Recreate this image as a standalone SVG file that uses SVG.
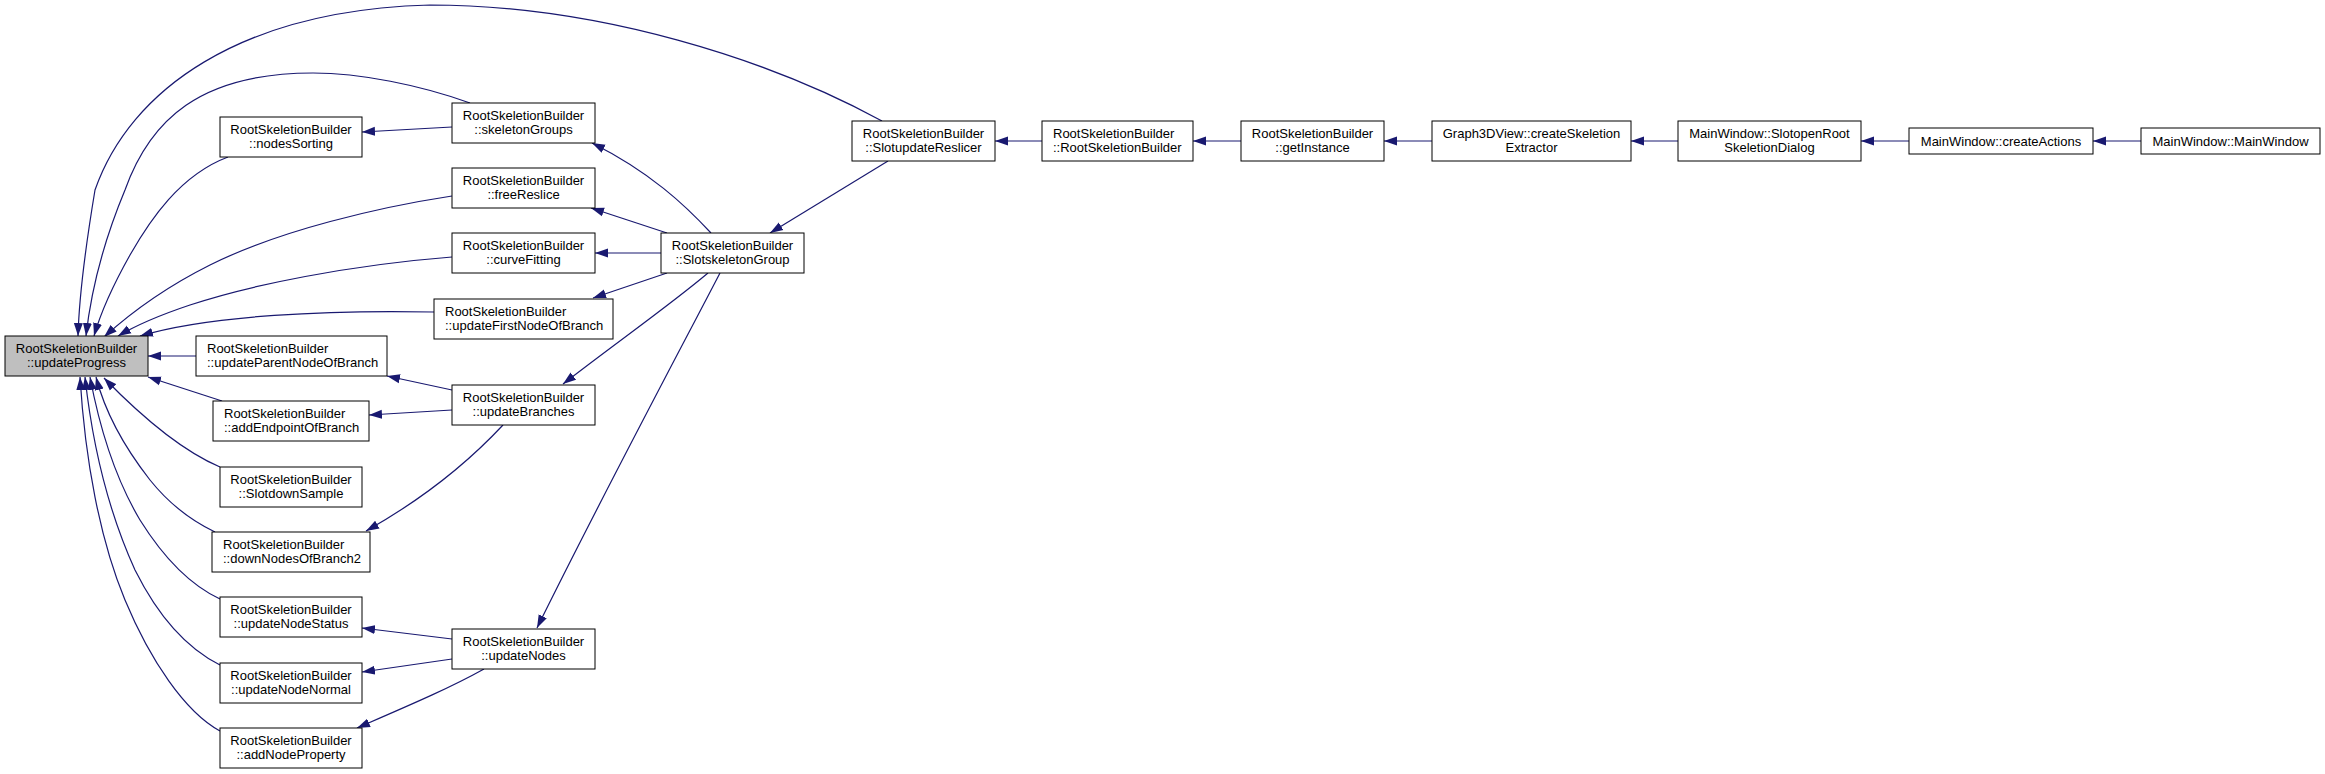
<svg xmlns="http://www.w3.org/2000/svg" width="2325" height="774" viewBox="0 0 2325 774">
<style>
.n rect{fill:#ffffff;stroke:#000000;stroke-width:1}
.n.hl rect{fill:#bfbfbf}
.n text{font-family:"Liberation Sans",Arial,sans-serif;font-size:13px;fill:#000000}
.c{text-anchor:middle}
#edges path{fill:none;stroke:#191970;stroke-width:1.2;marker-end:url(#ah)}
</style>
<defs>
<marker id="ah" markerWidth="13" markerHeight="10" refX="13" refY="5" orient="auto" markerUnits="userSpaceOnUse" viewBox="0 0 13 10">
<path d="M0,0.5 L13,5 L0,9.5 z" fill="#191970"/>
</marker>
</defs>
<rect width="2325" height="774" fill="#ffffff"/>
<g id="edges">
<path d="M882,121 C770,60 600,5 430,5 C240,10 130,90 95,190 C85,250 79,300 78,336"/>
<path d="M470,103 C420,85 360,73 313,73 C200,73 150,120 125,190 C100,250 90,300 86,336"/>
<path d="M228,157 C180,175 150,220 130,255 C112,287 100,315 94,336"/>
<path d="M452,196 C380,207 280,230 210,265 C160,290 125,318 104,337"/>
<path d="M452,257 C350,265 250,285 190,305 C160,315 135,326 118,336"/>
<path d="M434,312 C330,310 210,315 140,336"/>
<path d="M196,356 L148,356"/>
<path d="M222,401 L148,377"/>
<path d="M220,467 C180,450 140,415 104,378"/>
<path d="M215,532 C190,520 170,505 150,480 C125,448 105,412 96,377"/>
<path d="M220,599 C190,585 165,560 140,520 C115,478 100,430 90,377"/>
<path d="M220,665 C190,650 160,620 135,570 C110,515 93,450 85,377"/>
<path d="M220,731 C185,712 150,660 125,600 C100,540 85,460 80,377"/>
<path d="M452,127 L362,132"/>
<path d="M711,233 C685,205 650,172 592,143"/>
<path d="M667,233 L591,208"/>
<path d="M661,253 L595,253"/>
<path d="M667,273 L593,298"/>
<path d="M708,273 C670,305 620,340 563,384"/>
<path d="M720,273 C680,350 600,500 537,628"/>
<path d="M888,161 L770,233"/>
<path d="M452,390 L387,376"/>
<path d="M452,410 L369,415"/>
<path d="M503,425 C475,455 430,495 366,531"/>
<path d="M452,639 L362,628"/>
<path d="M452,659 L362,672"/>
<path d="M484,669 C450,688 410,705 357,728"/>
<path d="M1042,141 L995,141"/>
<path d="M1241,141 L1193,141"/>
<path d="M1432,141 L1384,141"/>
<path d="M1678,141 L1631,141"/>
<path d="M1909,141 L1861,141"/>
<path d="M2141,141 L2093,141"/>
</g>
<g id="updateProgress" class="n hl"><rect x="5" y="336" width="143" height="40"/><text class="c" x="76.5" y="353">RootSkeletionBuilder</text><text class="c" x="76.5" y="367">::updateProgress</text></g>
<g id="nodesSorting" class="n"><rect x="220" y="117" width="142" height="40"/><text class="c" x="291" y="134">RootSkeletionBuilder</text><text class="c" x="291" y="148">::nodesSorting</text></g>
<g id="skeletonGroups" class="n"><rect x="452" y="103" width="143" height="40"/><text class="c" x="523.5" y="120">RootSkeletionBuilder</text><text class="c" x="523.5" y="134">::skeletonGroups</text></g>
<g id="freeReslice" class="n"><rect x="452" y="168" width="143" height="40"/><text class="c" x="523.5" y="185">RootSkeletionBuilder</text><text class="c" x="523.5" y="199">::freeReslice</text></g>
<g id="curveFitting" class="n"><rect x="452" y="233" width="143" height="40"/><text class="c" x="523.5" y="250">RootSkeletionBuilder</text><text class="c" x="523.5" y="264">::curveFitting</text></g>
<g id="updateFirstNodeOfBranch" class="n"><rect x="434" y="299" width="179" height="40"/><text x="445" y="316">RootSkeletionBuilder</text><text x="445" y="330">::updateFirstNodeOfBranch</text></g>
<g id="updateParentNodeOfBranch" class="n"><rect x="196" y="336" width="191" height="40"/><text x="207" y="353">RootSkeletionBuilder</text><text x="207" y="367">::updateParentNodeOfBranch</text></g>
<g id="updateBranches" class="n"><rect x="452" y="385" width="143" height="40"/><text class="c" x="523.5" y="402">RootSkeletionBuilder</text><text class="c" x="523.5" y="416">::updateBranches</text></g>
<g id="addEndpointOfBranch" class="n"><rect x="213" y="401" width="156" height="40"/><text x="224" y="418">RootSkeletionBuilder</text><text x="224" y="432">::addEndpointOfBranch</text></g>
<g id="SlotdownSample" class="n"><rect x="220" y="467" width="142" height="40"/><text class="c" x="291" y="484">RootSkeletionBuilder</text><text class="c" x="291" y="498">::SlotdownSample</text></g>
<g id="downNodesOfBranch2" class="n"><rect x="212" y="532" width="158" height="40"/><text x="223" y="549">RootSkeletionBuilder</text><text x="223" y="563">::downNodesOfBranch2</text></g>
<g id="updateNodeStatus" class="n"><rect x="220" y="597" width="142" height="40"/><text class="c" x="291" y="614">RootSkeletionBuilder</text><text class="c" x="291" y="628">::updateNodeStatus</text></g>
<g id="updateNodes" class="n"><rect x="452" y="629" width="143" height="40"/><text class="c" x="523.5" y="646">RootSkeletionBuilder</text><text class="c" x="523.5" y="660">::updateNodes</text></g>
<g id="updateNodeNormal" class="n"><rect x="220" y="663" width="142" height="40"/><text class="c" x="291" y="680">RootSkeletionBuilder</text><text class="c" x="291" y="694">::updateNodeNormal</text></g>
<g id="addNodeProperty" class="n"><rect x="220" y="728" width="142" height="40"/><text class="c" x="291" y="745">RootSkeletionBuilder</text><text class="c" x="291" y="759">::addNodeProperty</text></g>
<g id="SlotskeletonGroup" class="n"><rect x="661" y="233" width="143" height="40"/><text class="c" x="732.5" y="250">RootSkeletionBuilder</text><text class="c" x="732.5" y="264">::SlotskeletonGroup</text></g>
<g id="SlotupdateReslicer" class="n"><rect x="852" y="121" width="143" height="40"/><text class="c" x="923.5" y="138">RootSkeletionBuilder</text><text class="c" x="923.5" y="152">::SlotupdateReslicer</text></g>
<g id="RootSkeletionBuilder" class="n"><rect x="1042" y="121" width="151" height="40"/><text x="1053" y="138">RootSkeletionBuilder</text><text x="1053" y="152">::RootSkeletionBuilder</text></g>
<g id="getInstance" class="n"><rect x="1241" y="121" width="143" height="40"/><text class="c" x="1312.5" y="138">RootSkeletionBuilder</text><text class="c" x="1312.5" y="152">::getInstance</text></g>
<g id="createSkeletionExtractor" class="n"><rect x="1432" y="121" width="199" height="40"/><text class="c" x="1531.5" y="138">Graph3DView::createSkeletion</text><text class="c" x="1531.5" y="152">Extractor</text></g>
<g id="SlotopenRootSkeletionDialog" class="n"><rect x="1678" y="121" width="183" height="40"/><text class="c" x="1769.5" y="138">MainWindow::SlotopenRoot</text><text class="c" x="1769.5" y="152">SkeletionDialog</text></g>
<g id="createActions" class="n"><rect x="1909" y="128" width="184" height="26"/><text class="c" x="2001" y="146">MainWindow::createActions</text></g>
<g id="MainWindow" class="n"><rect x="2141" y="128" width="179" height="26"/><text class="c" x="2230.5" y="146">MainWindow::MainWindow</text></g>
</svg>
